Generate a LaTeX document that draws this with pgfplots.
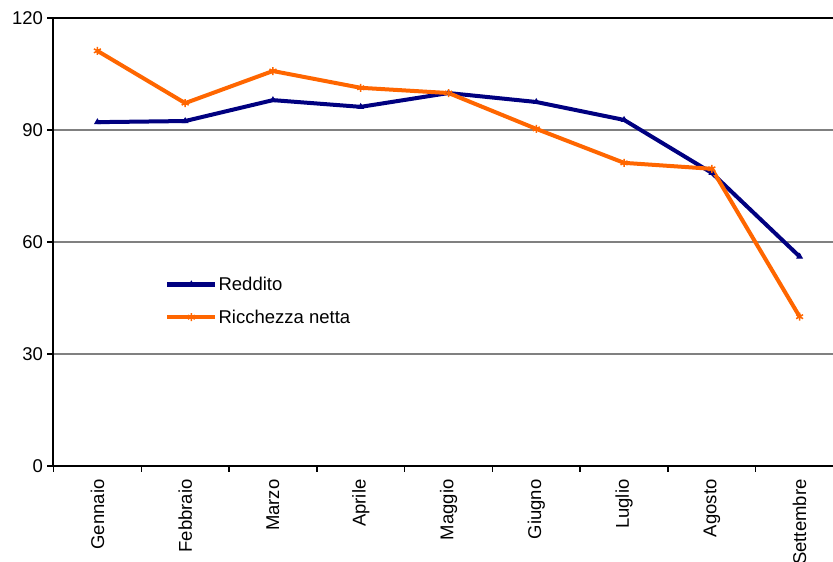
\documentclass[border=0pt]{standalone}
\usepackage{pgfplots}
\pgfplotsset{compat=1.18}
\usepackage{fontspec}
\setmainfont{Liberation Sans}
\definecolor{reddito}{HTML}{000080}
\definecolor{ricchezza}{HTML}{FF6600}
\definecolor{gridgray}{HTML}{808080}
\newcommand{\chartfont}{\fontsize{18.5}{22}\selectfont}
\begin{document}
\begin{tikzpicture}
\begin{axis}[
  width=790pt, height=448pt, scale only axis,
  xmin=-0.5, xmax=8.5, ymin=0, ymax=120,
  ytick={0,30,60,90,120},
  xtick={0,...,8},
  xticklabels={Gennaio,Febbraio,Marzo,Aprile,Maggio,Giugno,Luglio,Agosto,Settembre},
  minor xtick={-0.5,0.5,...,8.5},
  major x tick style={draw=none},
  tick align=outside, tick pos=left,
  major tick length=6pt, minor tick length=6pt,
  tick style={black, line width=1.5pt},
  ymajorgrids, grid style={gridgray, line width=1.2pt},
  axis line style={line width=2pt},
  /pgf/number format/assume math mode=true,
  yticklabel style={font=\chartfont, xshift=-1pt},
  xticklabel style={rotate=90, anchor=east, font=\chartfont, xshift=-4pt},
  legend style={draw=none, fill=none, at={(0.141,0.425)}, anchor=north west,
    font=\chartfont, row sep=16pt, inner sep=0pt,
    nodes={inner sep=1pt}},
  legend cell align=left,
  legend image code/.code={%
    \draw[#1, line width=4.5pt, mark repeat=2, mark phase=2] plot coordinates {(0pt,0pt) (24pt,0pt) (48pt,0pt)};},
]
\addplot[reddito, line width=4pt, mark=triangle*, mark size=3pt,
  mark options={line width=1pt}]
  coordinates {(0,92.1) (1,92.4) (2,98.0) (3,96.2) (4,99.9) (5,97.5) (6,92.7) (7,78.5) (8,56.1)};
\addlegendentry{Reddito}
\addplot[ricchezza, line width=4pt, mark=asterisk, mark size=4pt,
  mark options={line width=1.5pt}]
  coordinates {(0,111.2) (1,97.2) (2,105.8) (3,101.3) (4,99.9) (5,90.3) (6,81.2) (7,79.6) (8,40.0)};
\addlegendentry{Ricchezza netta}
\coordinate (o) at (rel axis cs:0,0);
\end{axis}
\pgfresetboundingbox
\useasboundingbox ([shift={(-53.5pt,-96pt)}]o) rectangle ([shift={(779.5pt,466pt)}]o);
\end{tikzpicture}
\end{document}
